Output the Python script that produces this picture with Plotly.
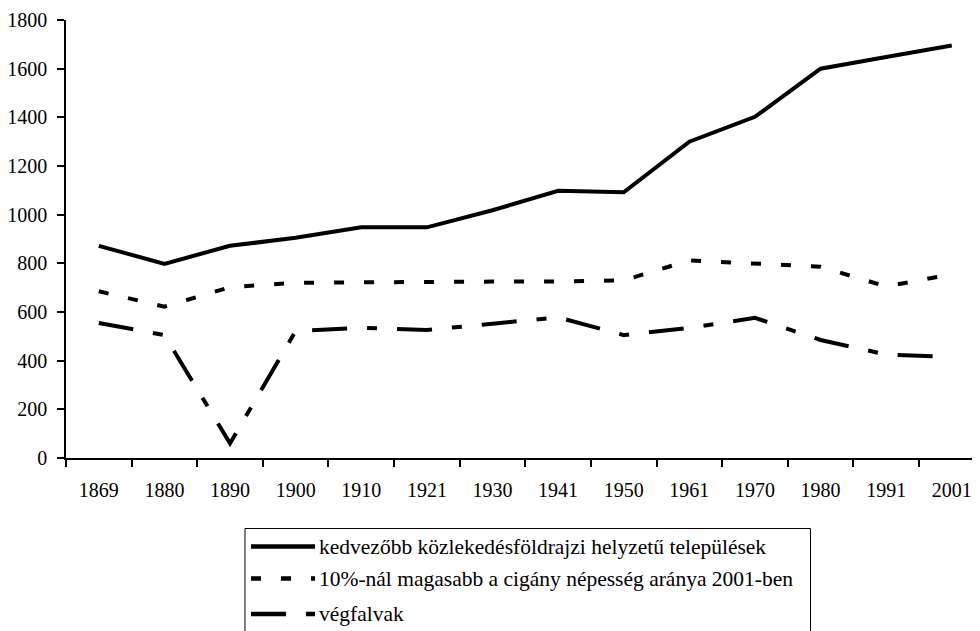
import plotly.graph_objects as go

years = ["1869", "1880", "1890", "1900", "1910", "1921", "1930", "1941",
         "1950", "1961", "1970", "1980", "1991", "2001"]
kedvezobb = [872, 798, 872, 905, 948, 948, 1018, 1098, 1092, 1300, 1402, 1600, 1648, 1695]
cigany = [685, 622, 702, 720, 722, 725, 725, 725, 730, 812, 800, 786, 705, 755]
vegfalvak = [555, 505, 60, 522, 535, 526, 552, 578, 505, 535, 576, 485, 425, 415]

names = ["kedvezőbb közlekedésföldrajzi helyzetű települések",
         "10%-nál magasabb a cigány népesség aránya 2001-ben",
         "végfalvak"]
dashes = ["solid", "10px,20px", "35px,20px,10px,20px"]
series = [kedvezobb, cigany, vegfalvak]

FONT = "Liberation Serif, Times New Roman, serif"
OFF = 8  # page body margin of the html page
W, H = 980 - OFF, 631 - OFF
ML, MR, MT, MB = 58, 0, 12, 173
PW, PH = W - ML - MR, H - MT - MB

fig = go.Figure()
for name, vals, dash in zip(names, series, dashes):
    fig.add_trace(go.Scatter(
        x=years, y=vals, mode="lines", name=name, showlegend=False,
        line=dict(color="black", width=4, dash=dash),
    ))

def px(xp):
    return (xp - OFF - ML) / PW

def py(yp):
    return (MT + PH - (yp - OFF)) / PH

shapes = [dict(type="rect", xref="paper", yref="paper",
               x0=px(245), x1=px(810.5), y0=py(528.5), y1=py(690),
               line=dict(color="black", width=1), fillcolor="rgba(0,0,0,0)")]
annotations = []
row_y = [546.5, 578.5, 614]
for name, dash, ry in zip(names, dashes, row_y):
    shapes.append(dict(type="line", xref="paper", yref="paper",
                       x0=px(251), x1=px(315), y0=py(ry), y1=py(ry),
                       line=dict(color="black", width=4.5, dash=dash)))
    annotations.append(dict(xref="paper", yref="paper", x=px(317), y=py(ry),
                            xanchor="left", yanchor="middle", showarrow=False,
                            text=name, font=dict(family=FONT, size=21.5, color="black")))

fig.update_layout(
    width=W, height=H,
    margin=dict(l=ML, r=MR, t=MT, b=MB, pad=0),
    paper_bgcolor="white", plot_bgcolor="white",
    font=dict(family=FONT, size=20, color="black"),
    shapes=shapes, annotations=annotations,
    xaxis=dict(type="category", range=[-0.5, 13.43], tickson="boundaries",
               showline=True, linecolor="black", linewidth=1.5,
               ticks="outside", ticklen=7, tickcolor="black", tickwidth=1.5,
               showgrid=False, zeroline=False, ticklabelstandoff=13,
               tickfont=dict(family=FONT, size=20, color="black")),
    yaxis=dict(range=[0, 1800], dtick=200, tick0=0,
               showline=True, linecolor="black", linewidth=1.5,
               ticks="outside", ticklen=7, tickcolor="black", tickwidth=1.5,
               showgrid=False, zeroline=False, ticklabelstandoff=6,
               tickfont=dict(family=FONT, size=20, color="black")),
)

fig.write_html("out.html")
